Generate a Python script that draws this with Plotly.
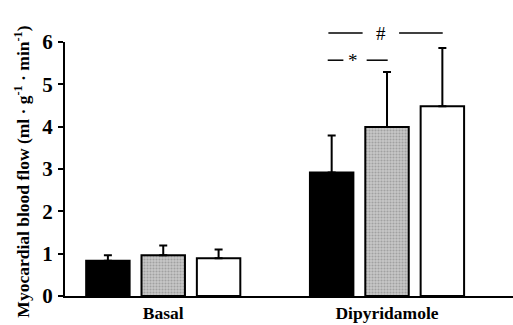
import plotly.graph_objects as go

conditions = ["Basal", "Dipyridamole"]
series_names = ["Group 1", "Group 2", "Group 3"]
means = {
    "Group 1": [0.83, 2.92],
    "Group 2": [0.96, 3.99],
    "Group 3": [0.89, 4.48],
}
sds = {
    "Group 1": [0.13, 0.87],
    "Group 2": [0.23, 1.30],
    "Group 3": [0.21, 1.38],
}
y_ticks = [0, 1, 2, 3, 4, 5, 6]
y_title = "Myocardial blood flow (ml · g<sup>-1</sup> · min<sup>-1</sup>)"

# significance brackets (x in category units, y in data units)
sig_labels = ["#", "*"]
sig_x = [(0.738, 0.891, 0.973, 1.054, 1.249), (0.735, 0.805, 0.847, 0.909, 1.003)]
sig_y = [6.21, 5.57]

YMAX = 6
font_serif = "Liberation Serif"

fig = go.Figure()
styles = {
    "Group 1": dict(color="black"),
    "Group 2": dict(color="#b4b4b4", pattern=dict(shape=".", fgcolor="#7a7a7a", bgcolor="#c8c8c8", size=3, solidity=0.4)),
    "Group 3": dict(color="white"),
}
for name in series_names:
    fig.add_trace(go.Bar(
        x=conditions, y=means[name], name=name,
        marker=dict(**styles[name], line=dict(color="black", width=2)),
        error_y=dict(type="data", symmetric=False, array=sds[name],
                     arrayminus=[0] * len(conditions),
                     color="black", thickness=2, width=4),
    ))

for lab, xs, yv in zip(sig_labels, sig_x, sig_y):
    yp = yv / YMAX
    fig.add_shape(type="line", xref="x", yref="paper", x0=xs[0], x1=xs[1], y0=yp, y1=yp,
                  line=dict(color="black", width=1.5))
    fig.add_shape(type="line", xref="x", yref="paper", x0=xs[3], x1=xs[4], y0=yp, y1=yp,
                  line=dict(color="black", width=1.5))
    fig.add_annotation(x=xs[2], y=yp, xref="x", yref="paper", text=lab, showarrow=False,
                       font=dict(family=font_serif, size=19, color="black"), yanchor="middle")

fig.add_annotation(x=-0.098, y=0.49, xref="paper", yref="paper", text="<b>" + y_title + "</b>",
                   textangle=-90, showarrow=False, xanchor="center", yanchor="middle",
                   font=dict(family=font_serif, size=17.5, color="black"))

fig.update_layout(
    width=513, height=325,
    margin=dict(l=65, r=0, t=42, b=29, autoexpand=False),
    plot_bgcolor="white", paper_bgcolor="white",
    barmode="group", bargap=0.258, bargroupgap=0.215,
    showlegend=False,
    xaxis=dict(range=[-0.439, 1.563], showline=True, linecolor="black", linewidth=2,
               ticks="", showgrid=False, zeroline=False, ticklabelstandoff=0,
               tickfont=dict(family=font_serif, size=17.5, color="black", weight="bold")),
    yaxis=dict(range=[0, YMAX], tickvals=y_ticks, showline=True, linecolor="black", linewidth=2,
               ticks="outside", ticklen=5, tickwidth=2, tickcolor="black",
               showgrid=False, zeroline=False, ticklabelstandoff=1,
               tickfont=dict(family=font_serif, size=21, color="black", weight="bold")),
)

fig.write_html("out.html", config={"displayModeBar": False},
               post_script="document.body.style.margin='0';document.body.style.overflow='hidden';")
